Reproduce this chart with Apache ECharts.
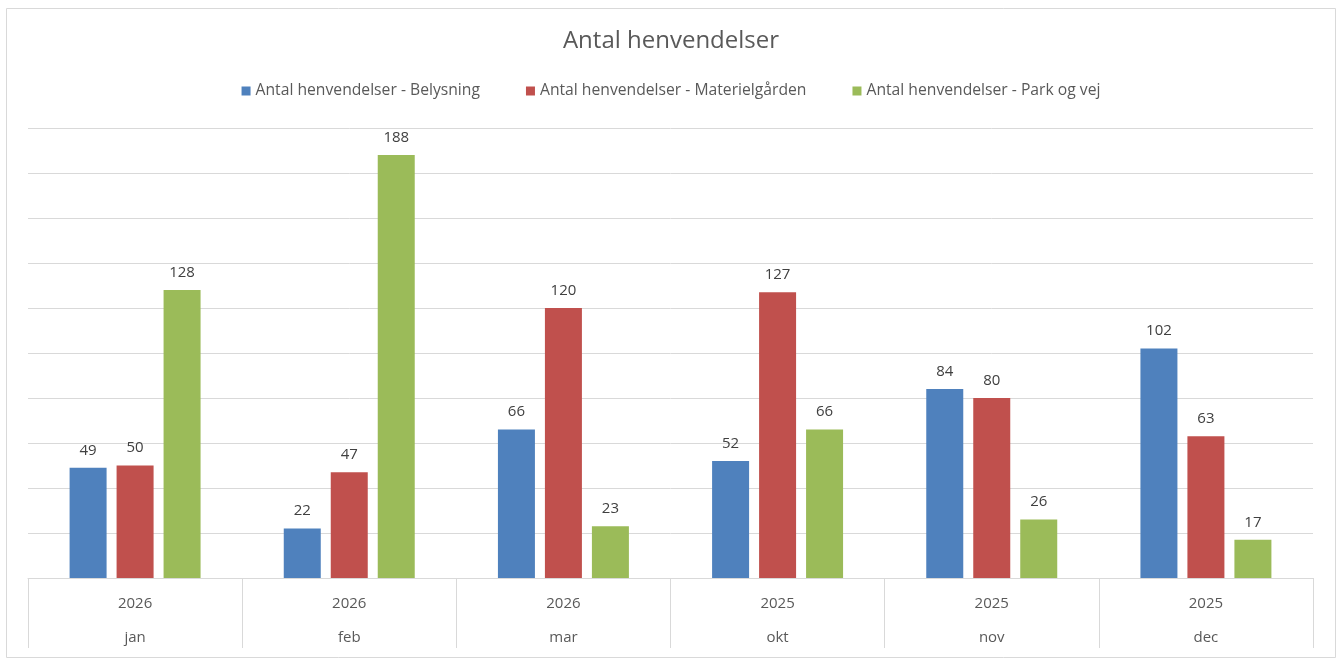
<!DOCTYPE html>
<html><head><meta charset="utf-8">
<script src="https://cdn.jsdelivr.net/npm/echarts@6/dist/echarts.min.js"></script>
<style>html,body{margin:0;padding:0;background:#fff}#c{width:1342px;height:666px}</style>
</head><body><div id="c"></div>
<script>
const months = ['jan','feb','mar','okt','nov','dec'];
const years = ['2026','2026','2026','2025','2025','2025'];
const seriesNames = ['Antal henvendelser - Belysning','Antal henvendelser - Materielgården','Antal henvendelser - Park og vej'];
const belysning = [49,22,66,52,84,102];
const materielgaarden = [50,47,120,127,80,63];
const parkOgVej = [128,188,23,66,26,17];
const colors = ['#4f81bd','#c0504d','#9bbb59'];
const FONT = 'Open Sans';
const chart = echarts.init(document.getElementById('c'));
const mk = (name, data, color) => ({
  name, type:'bar', data, barWidth:37, barGap:'27%',
  itemStyle:{color},
  label:{show:true, position:'top', distance:10, color:'#404040', fontSize:15, fontFamily:FONT}
});
chart.setOption({
  animation:false,
  title:{text:'Antal henvendelser', left:'center', top:24, textStyle:{fontFamily:FONT, fontSize:24, fontWeight:'normal', color:'#595959'}},
  legend:{top:78, left:'center', icon:'rect', itemWidth:9, itemHeight:9, itemGap:46,
    textStyle:{fontFamily:FONT, fontSize:15.7, color:'#595959'}},
  graphic:[{type:'rect', shape:{x:6.5,y:8.5,width:1329,height:649}, style:{fill:'none', stroke:'#d9d9d9', lineWidth:1}}],
  grid:{left:28, right:29, top:128, bottom:88},
  xAxis:{type:'category', data:months.map((m,i)=>years[i]+'|'+m),
    axisLine:{lineStyle:{color:'#d9d9d9'}},
    axisTick:{show:true, interval:0, length:70, lineStyle:{color:'#d9d9d9'}},
    axisLabel:{interval:0, margin:9, formatter:(v)=>{const p=v.split('|');return '{y|'+p[0]+'}\n{m|'+p[1]+'}';},
      rich:{y:{fontFamily:FONT,fontSize:15,color:'#595959',lineHeight:34},m:{fontFamily:FONT,fontSize:15,color:'#595959',lineHeight:34}}}
  },
  yAxis:{type:'value', min:0, max:200, interval:20, axisLabel:{show:false}, axisLine:{show:false}, axisTick:{show:false},
    splitLine:{lineStyle:{color:'#d9d9d9'}}},
  series:[mk(seriesNames[0],belysning,colors[0]), mk(seriesNames[1],materielgaarden,colors[1]), mk(seriesNames[2],parkOgVej,colors[2])]
});
</script></body></html>
